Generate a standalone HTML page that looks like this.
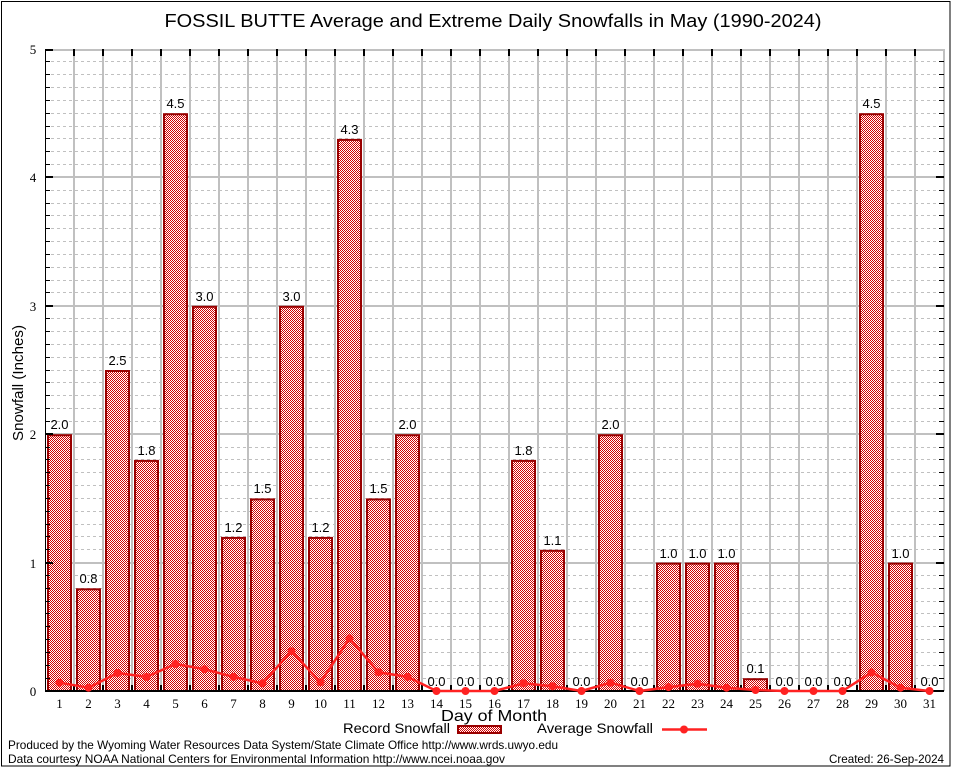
<!DOCTYPE html>
<html><head><meta charset="utf-8"><style>
html,body{margin:0;padding:0;background:#fff;}
svg{display:block;}
text{font-family:"Liberation Sans","DejaVu Sans",sans-serif;fill:#000;}
.s{font-family:"Liberation Serif",serif;font-size:13px;}
.v{font-size:13px;text-anchor:middle;}
</style></head><body>
<svg width="954" height="768" viewBox="0 0 954 768" xmlns="http://www.w3.org/2000/svg">
<defs>
<pattern id="chk" patternUnits="userSpaceOnUse" width="2" height="2">
<rect width="2" height="2" fill="#fff"/>
<rect x="0" y="0" width="1" height="1" fill="#d40000"/>
<rect x="1" y="1" width="1" height="1" fill="#d40000"/>
</pattern>
</defs>
<rect x="0" y="0" width="954" height="768" fill="#fff"/>
<rect x="1.5" y="1.5" width="948.5" height="764.5" fill="none" stroke="#000" stroke-width="1"/>

<text x="493" y="27" font-size="18" text-anchor="middle" textLength="657" lengthAdjust="spacingAndGlyphs">FOSSIL BUTTE Average and Extreme Daily Snowfalls in May (1990-2024)</text>

<!-- dashed minor gridlines -->
<path fill="none" stroke="#c0c0c0" stroke-width="1" stroke-dasharray="3,3" d="M45 678.5H944M45 665.5H944M45 652.5H944M45 639.5H944M45 626.5H944M45 613.5H944M45 601.5H944M45 588.5H944M45 575.5H944M45 549.5H944M45 536.5H944M45 524.5H944M45 511.5H944M45 498.5H944M45 485.5H944M45 472.5H944M45 459.5H944M45 447.5H944M45 421.5H944M45 408.5H944M45 395.5H944M45 382.5H944M45 370.5H944M45 357.5H944M45 344.5H944M45 331.5H944M45 318.5H944M45 292.5H944M45 280.5H944M45 267.5H944M45 254.5H944M45 241.5H944M45 228.5H944M45 215.5H944M45 203.5H944M45 190.5H944M45 164.5H944M45 151.5H944M45 138.5H944M45 126.5H944M45 113.5H944M45 100.5H944M45 87.5H944M45 74.5H944M45 61.5H944"/>
<!-- solid major gridlines -->
<path fill="none" stroke="#c0c0c0" stroke-width="2" d="M45 563H944M45 434H944M45 306H944M45 177H944M45 50H944M944 49V691M74 49V691M103 49V691M132 49V691M161 49V691M190 49V691M219 49V691M248 49V691M277 49V691M306 49V691M335 49V691M364 49V691M393 49V691M422 49V691M451 49V691M480 49V691M509 49V691M538 49V691M567 49V691M596 49V691M625 49V691M654 49V691M683 49V691M712 49V691M741 49V691M770 49V691M799 49V691M828 49V691M857 49V691M886 49V691M915 49V691"/>

<!-- bars -->
<g fill="url(#chk)" stroke="#990000" stroke-width="2">
<rect x="48" y="435.2" width="23" height="255.8"/>
<rect x="77" y="589.3" width="23" height="101.7"/>
<rect x="106" y="371" width="23" height="320"/>
<rect x="135" y="460.9" width="23" height="230.1"/>
<rect x="164" y="114.2" width="23" height="576.8"/>
<rect x="193" y="306.8" width="23" height="384.2"/>
<rect x="222" y="537.9" width="23" height="153.1"/>
<rect x="251" y="499.4" width="23" height="191.6"/>
<rect x="280" y="306.8" width="23" height="384.2"/>
<rect x="309" y="537.9" width="23" height="153.1"/>
<rect x="338" y="139.9" width="23" height="551.1"/>
<rect x="367" y="499.4" width="23" height="191.6"/>
<rect x="396" y="435.2" width="23" height="255.8"/>
<rect x="512" y="460.9" width="23" height="230.1"/>
<rect x="541" y="550.8" width="23" height="140.2"/>
<rect x="599" y="435.2" width="23" height="255.8"/>
<rect x="657" y="563.6" width="23" height="127.4"/>
<rect x="686" y="563.6" width="23" height="127.4"/>
<rect x="715" y="563.6" width="23" height="127.4"/>
<rect x="744" y="679.2" width="23" height="11.8"/>
<rect x="860" y="114.2" width="23" height="576.8"/>
<rect x="889" y="563.6" width="23" height="127.4"/>
</g>

<!-- value labels -->
<g class="v">
<text class="v" x="59.5" y="429">2.0</text>
<text class="v" x="88.5" y="583">0.8</text>
<text class="v" x="117.5" y="365">2.5</text>
<text class="v" x="146.5" y="455">1.8</text>
<text class="v" x="175.5" y="108">4.5</text>
<text class="v" x="204.5" y="301">3.0</text>
<text class="v" x="233.5" y="532">1.2</text>
<text class="v" x="262.5" y="493">1.5</text>
<text class="v" x="291.5" y="301">3.0</text>
<text class="v" x="320.5" y="532">1.2</text>
<text class="v" x="349.5" y="134">4.3</text>
<text class="v" x="378.5" y="493">1.5</text>
<text class="v" x="407.5" y="429">2.0</text>
<text class="v" x="436.5" y="686">0.0</text>
<text class="v" x="465.5" y="686">0.0</text>
<text class="v" x="494.5" y="686">0.0</text>
<text class="v" x="523.5" y="455">1.8</text>
<text class="v" x="552.5" y="545">1.1</text>
<text class="v" x="581.5" y="686">0.0</text>
<text class="v" x="610.5" y="429">2.0</text>
<text class="v" x="639.5" y="686">0.0</text>
<text class="v" x="668.5" y="558">1.0</text>
<text class="v" x="697.5" y="558">1.0</text>
<text class="v" x="726.5" y="558">1.0</text>
<text class="v" x="755.5" y="673">0.1</text>
<text class="v" x="784.5" y="686">0.0</text>
<text class="v" x="813.5" y="686">0.0</text>
<text class="v" x="842.5" y="686">0.0</text>
<text class="v" x="871.5" y="108">4.5</text>
<text class="v" x="900.5" y="558">1.0</text>
<text class="v" x="929.5" y="686">0.0</text>
</g>

<!-- axes -->
<path fill="none" stroke="#000" stroke-width="1" d="M45.5 49V692"/>
<path fill="none" stroke="#000" stroke-width="2" d="M45 691H944"/>
<!-- ticks -->
<path fill="none" stroke="#000" stroke-width="1" d="M45 678.5h5M45 665.5h5M45 652.5h5M45 639.5h5M45 626.5h5M45 613.5h5M45 601.5h5M45 588.5h5M45 575.5h5M45 549.5h5M45 536.5h5M45 524.5h5M45 511.5h5M45 498.5h5M45 485.5h5M45 472.5h5M45 459.5h5M45 447.5h5M45 421.5h5M45 408.5h5M45 395.5h5M45 382.5h5M45 370.5h5M45 357.5h5M45 344.5h5M45 331.5h5M45 318.5h5M45 292.5h5M45 280.5h5M45 267.5h5M45 254.5h5M45 241.5h5M45 228.5h5M45 215.5h5M45 203.5h5M45 190.5h5M45 164.5h5M45 151.5h5M45 138.5h5M45 126.5h5M45 113.5h5M45 100.5h5M45 87.5h5M45 74.5h5M45 61.5h5M944 678.5h-5M944 665.5h-5M944 652.5h-5M944 639.5h-5M944 626.5h-5M944 613.5h-5M944 601.5h-5M944 588.5h-5M944 575.5h-5M944 549.5h-5M944 536.5h-5M944 524.5h-5M944 511.5h-5M944 498.5h-5M944 485.5h-5M944 472.5h-5M944 459.5h-5M944 447.5h-5M944 421.5h-5M944 408.5h-5M944 395.5h-5M944 382.5h-5M944 370.5h-5M944 357.5h-5M944 344.5h-5M944 331.5h-5M944 318.5h-5M944 292.5h-5M944 280.5h-5M944 267.5h-5M944 254.5h-5M944 241.5h-5M944 228.5h-5M944 215.5h-5M944 203.5h-5M944 190.5h-5M944 164.5h-5M944 151.5h-5M944 138.5h-5M944 126.5h-5M944 113.5h-5M944 100.5h-5M944 87.5h-5M944 74.5h-5M944 61.5h-5"/>
<path fill="none" stroke="#000" stroke-width="2" d="M45 563h8M45 434h8M45 306h8M45 177h8M45 50h8M944 563h-8M944 434h-8M944 306h-8M944 177h-8M74 49v7M103 49v7M132 49v7M161 49v7M190 49v7M219 49v7M248 49v7M277 49v7M306 49v7M335 49v7M364 49v7M393 49v7M422 49v7M451 49v7M480 49v7M509 49v7M538 49v7M567 49v7M596 49v7M625 49v7M654 49v7M683 49v7M712 49v7M741 49v7M770 49v7M799 49v7M828 49v7M857 49v7M886 49v7M915 49v7M74 691v-6M103 691v-6M132 691v-6M161 691v-6M190 691v-6M219 691v-6M248 691v-6M277 691v-6M306 691v-6M335 691v-6M364 691v-6M393 691v-6M422 691v-6M451 691v-6M480 691v-6M509 691v-6M538 691v-6M567 691v-6M596 691v-6M625 691v-6M654 691v-6M683 691v-6M712 691v-6M741 691v-6M770 691v-6M799 691v-6M828 691v-6M857 691v-6M886 691v-6M915 691v-6"/>

<!-- average line -->
<polyline fill="none" stroke="#ff2222" stroke-width="2.5" stroke-linejoin="round" points="59.5,682.7 88.5,687.7 117.5,673 146.5,676.9 175.5,664 204.5,669.2 233.5,676.9 262.5,683.3 291.5,651.2 320.5,682.3 349.5,638.4 378.5,672.3 407.5,676.9 436.5,691 465.5,691 494.5,691 523.5,683.3 552.5,686.2 581.5,691 610.5,682.7 639.5,691 668.5,687.1 697.5,683.7 726.5,687.7 755.5,690 784.5,691 813.5,691 842.5,691 871.5,672.4 900.5,687.7 929.5,691"/>
<g fill="#ff2222">
<circle cx="59.5" cy="682.7" r="4"/><circle cx="88.5" cy="687.7" r="4"/><circle cx="117.5" cy="673" r="4"/><circle cx="146.5" cy="676.9" r="4"/><circle cx="175.5" cy="664" r="4"/><circle cx="204.5" cy="669.2" r="4"/><circle cx="233.5" cy="676.9" r="4"/><circle cx="262.5" cy="683.3" r="4"/><circle cx="291.5" cy="651.2" r="4"/><circle cx="320.5" cy="682.3" r="4"/><circle cx="349.5" cy="638.4" r="4"/><circle cx="378.5" cy="672.3" r="4"/><circle cx="407.5" cy="676.9" r="4"/><circle cx="436.5" cy="691" r="4"/><circle cx="465.5" cy="691" r="4"/><circle cx="494.5" cy="691" r="4"/><circle cx="523.5" cy="683.3" r="4"/><circle cx="552.5" cy="686.2" r="4"/><circle cx="581.5" cy="691" r="4"/><circle cx="610.5" cy="682.7" r="4"/><circle cx="639.5" cy="691" r="4"/><circle cx="668.5" cy="687.1" r="4"/><circle cx="697.5" cy="683.7" r="4"/><circle cx="726.5" cy="687.7" r="4"/><circle cx="755.5" cy="690" r="4"/><circle cx="784.5" cy="691" r="4"/><circle cx="813.5" cy="691" r="4"/><circle cx="842.5" cy="691" r="4"/><circle cx="871.5" cy="672.4" r="4"/><circle cx="900.5" cy="687.7" r="4"/><circle cx="929.5" cy="691" r="4"/>
</g>

<!-- y tick labels -->
<g class="s" text-anchor="middle">
<text class="s" x="33" y="696">0</text>
<text class="s" x="33" y="568">1</text>
<text class="s" x="33" y="439">2</text>
<text class="s" x="33" y="311">3</text>
<text class="s" x="33" y="182">4</text>
<text class="s" x="33" y="54">5</text>
</g>
<!-- x tick labels -->
<g text-anchor="middle">
<text class="s" x="59.5" y="708" text-anchor="middle">1</text>
<text class="s" x="88.5" y="708" text-anchor="middle">2</text>
<text class="s" x="117.5" y="708" text-anchor="middle">3</text>
<text class="s" x="146.5" y="708" text-anchor="middle">4</text>
<text class="s" x="175.5" y="708" text-anchor="middle">5</text>
<text class="s" x="204.5" y="708" text-anchor="middle">6</text>
<text class="s" x="233.5" y="708" text-anchor="middle">7</text>
<text class="s" x="262.5" y="708" text-anchor="middle">8</text>
<text class="s" x="291.5" y="708" text-anchor="middle">9</text>
<text class="s" x="320.5" y="708" text-anchor="middle">10</text>
<text class="s" x="349.5" y="708" text-anchor="middle">11</text>
<text class="s" x="378.5" y="708" text-anchor="middle">12</text>
<text class="s" x="407.5" y="708" text-anchor="middle">13</text>
<text class="s" x="436.5" y="708" text-anchor="middle">14</text>
<text class="s" x="465.5" y="708" text-anchor="middle">15</text>
<text class="s" x="494.5" y="708" text-anchor="middle">16</text>
<text class="s" x="523.5" y="708" text-anchor="middle">17</text>
<text class="s" x="552.5" y="708" text-anchor="middle">18</text>
<text class="s" x="581.5" y="708" text-anchor="middle">19</text>
<text class="s" x="610.5" y="708" text-anchor="middle">20</text>
<text class="s" x="639.5" y="708" text-anchor="middle">21</text>
<text class="s" x="668.5" y="708" text-anchor="middle">22</text>
<text class="s" x="697.5" y="708" text-anchor="middle">23</text>
<text class="s" x="726.5" y="708" text-anchor="middle">24</text>
<text class="s" x="755.5" y="708" text-anchor="middle">25</text>
<text class="s" x="784.5" y="708" text-anchor="middle">26</text>
<text class="s" x="813.5" y="708" text-anchor="middle">27</text>
<text class="s" x="842.5" y="708" text-anchor="middle">28</text>
<text class="s" x="871.5" y="708" text-anchor="middle">29</text>
<text class="s" x="900.5" y="708" text-anchor="middle">30</text>
<text class="s" x="929.5" y="708" text-anchor="middle">31</text>
</g>

<!-- axis titles -->
<text x="0" y="0" font-size="15" text-anchor="middle" textLength="116" lengthAdjust="spacingAndGlyphs" transform="translate(23,383) rotate(-90)">Snowfall (Inches)</text>
<text x="494" y="721" font-size="16" text-anchor="middle" textLength="106" lengthAdjust="spacingAndGlyphs">Day of Month</text>

<!-- legend -->
<text x="343" y="733" font-size="14" textLength="107" lengthAdjust="spacingAndGlyphs">Record Snowfall</text>
<rect x="458" y="726" width="43" height="7" fill="url(#chk)" stroke="#990000" stroke-width="2"/>
<text x="537" y="733" font-size="14" textLength="116" lengthAdjust="spacingAndGlyphs">Average Snowfall</text>
<line x1="662" y1="729.5" x2="707" y2="729.5" stroke="#ff2222" stroke-width="2.5"/>
<circle cx="684" cy="729.5" r="4" fill="#ff2222"/>

<!-- footer -->
<text x="8" y="749" font-size="12" textLength="550" lengthAdjust="spacingAndGlyphs">Produced by the Wyoming Water Resources Data System/State Climate Office http://www.wrds.uwyo.edu</text>
<text x="8" y="763" font-size="12" textLength="497" lengthAdjust="spacingAndGlyphs">Data courtesy NOAA National Centers for Environmental Information http://www.ncei.noaa.gov</text>
<text x="944" y="763" font-size="12" text-anchor="end" textLength="115" lengthAdjust="spacingAndGlyphs">Created: 26-Sep-2024</text>
</svg>
</body></html>
